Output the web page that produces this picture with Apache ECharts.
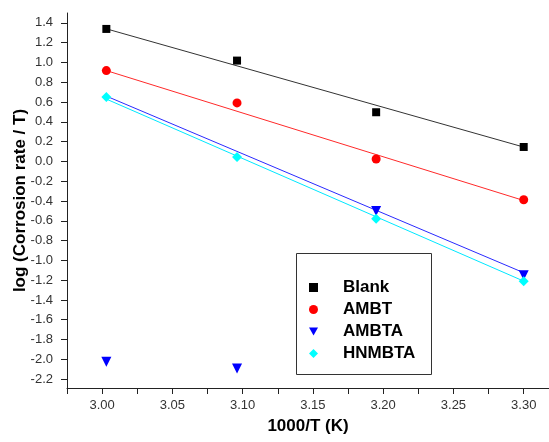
<!DOCTYPE html>
<html>
<head>
<meta charset="utf-8">
<script src="https://cdn.jsdelivr.net/npm/echarts@6/dist/echarts.min.js"></script>
<style>
html,body{margin:0;padding:0;background:#fff;}
#chart{width:549px;height:442px;}
</style>
</head>
<body>
<div id="chart"></div>
<script>
// 1000/T values (K^-1)
const xValues = [3.003, 3.096, 3.195, 3.300];
// log (Corrosion rate / T)
const blankValues  = [1.339, 1.019, 0.497, 0.146];
const ambtValues   = [0.918, 0.591, 0.025, -0.387];
const ambtaValues  = [-2.025, -2.092, -0.500, -1.150];
const hnmbtaValues = [0.650, 0.044, -0.580, -1.210];
// fitted lines (start, end) at x = 3.003 and 3.300
const fitX = [3.003, 3.300];
const blankFit  = [1.340, 0.145];
const ambtFit   = [0.918, -0.395];
const ambtaFit  = [0.660, -1.125];
const hnmbtaFit = [0.630, -1.210];
// tick values
const xTicks = [2.975, 3.000, 3.025, 3.050, 3.075, 3.100, 3.125, 3.150, 3.175, 3.200, 3.225, 3.250, 3.275, 3.300];
const xLabels = [3.00, 3.05, 3.10, 3.15, 3.20, 3.25, 3.30];
const yTicks = [-2.2, -2.0, -1.8, -1.6, -1.4, -1.2, -1.0, -0.8, -0.6, -0.4, -0.2, 0.0, 0.2, 0.4, 0.6, 0.8, 1.0, 1.2, 1.4];
const seriesNames = ['Blank', 'AMBT', 'AMBTA', 'HNMBTA'];

const pts = v => xValues.map((x, i) => [x, v[i]]);
const fit = v => fitX.map((x, i) => [x, v[i]]);

const chart = echarts.init(document.getElementById('chart'), null, {renderer: 'canvas'});
const FONT = '"Liberation Sans", Arial, sans-serif';
const lineSeries = (data, color) => ({
  type: 'line', data: fit(data), showSymbol: false, symbol: 'none', silent: true,
  lineStyle: {color: color, width: 1}, z: 1, animation: false
});
const scatter = (name, data, color, symbol, size, rot) => ({
  name: name, type: 'scatter', data: pts(data), symbol: symbol, symbolSize: size,
  symbolRotate: rot || 0, itemStyle: {color: color, opacity: 1}, z: 3, animation: false
});
const downTriangle = 'path://M0,0 L10,0 L5,9 Z';

chart.setOption({
  backgroundColor: '#fff',
  animation: false,
  grid: {left: 67, right: 0, top: 13, bottom: 54, containLabel: false, outerBoundsMode: 'none'},
  xAxis: {
    type: 'value', min: 2.975, max: 3.318,
    axisLine: {show: true, onZero: false, lineStyle: {color: '#222', width: 1}},
    axisTick: {show: true, inside: false, length: 6, lineStyle: {color: '#222'}, customValues: xTicks},
    axisLabel: {customValues: xLabels, margin: 11, color: '#333', fontFamily: FONT, fontSize: 13,
      formatter: v => v.toFixed(2)},
    splitLine: {show: false},
    name: '1000/T (K)', nameLocation: 'middle', nameGap: 30, nameMoveOverlap: false,
    nameTextStyle: {fontFamily: FONT, fontSize: 17, fontWeight: 'bold', color: '#000'}
  },
  yAxis: {
    type: 'value', min: -2.29, max: 1.5,
    axisLine: {show: true, onZero: false, lineStyle: {color: '#222', width: 1}},
    axisTick: {show: true, inside: false, length: 6, lineStyle: {color: '#222'}, customValues: yTicks},
    axisLabel: {customValues: yTicks, margin: 14, color: '#333', fontFamily: FONT, fontSize: 13,
      formatter: v => v.toFixed(1)},
    splitLine: {show: false},
    name: 'log (Corrosion rate / T)', nameLocation: 'middle', nameGap: 38, nameMoveOverlap: false,
    nameTextStyle: {fontFamily: FONT, fontSize: 17, fontWeight: 'bold', color: '#000'}
  },
  legend: {
    data: [
      {name: seriesNames[0]},
      {name: seriesNames[1]},
      {name: seriesNames[2], icon: downTriangle},
      {name: seriesNames[3]}
    ],
    orient: 'vertical', left: 309, top: 279,
    itemWidth: 9, itemHeight: 9, itemGap: 5, padding: 0,
    textStyle: {fontFamily: FONT, fontSize: 17, fontWeight: 'bold', color: '#000', padding: [0, 0, 0, 20]},
    selectedMode: false
  },
  graphic: [{
    type: 'rect', shape: {x: 296.5, y: 253.5, width: 135, height: 121},
    style: {fill: '#fff', stroke: '#333', lineWidth: 1}, z: 0, zlevel: 0
  }],
  series: [
    lineSeries(blankFit, '#333333'),
    lineSeries(ambtFit, '#ff2a2a'),
    lineSeries(ambtaFit, '#2a2aff'),
    lineSeries(hnmbtaFit, '#00e8ff'),
    scatter('Blank', blankValues, '#000000', 'rect', 8),
    scatter('AMBT', ambtValues, '#ff0000', 'circle', 9),
    scatter('AMBTA', ambtaValues, '#0000ff', 'triangle', 10, 180),
    scatter('HNMBTA', hnmbtaValues, '#00ffff', 'diamond', 10)
  ]
});
</script>
</body>
</html>
